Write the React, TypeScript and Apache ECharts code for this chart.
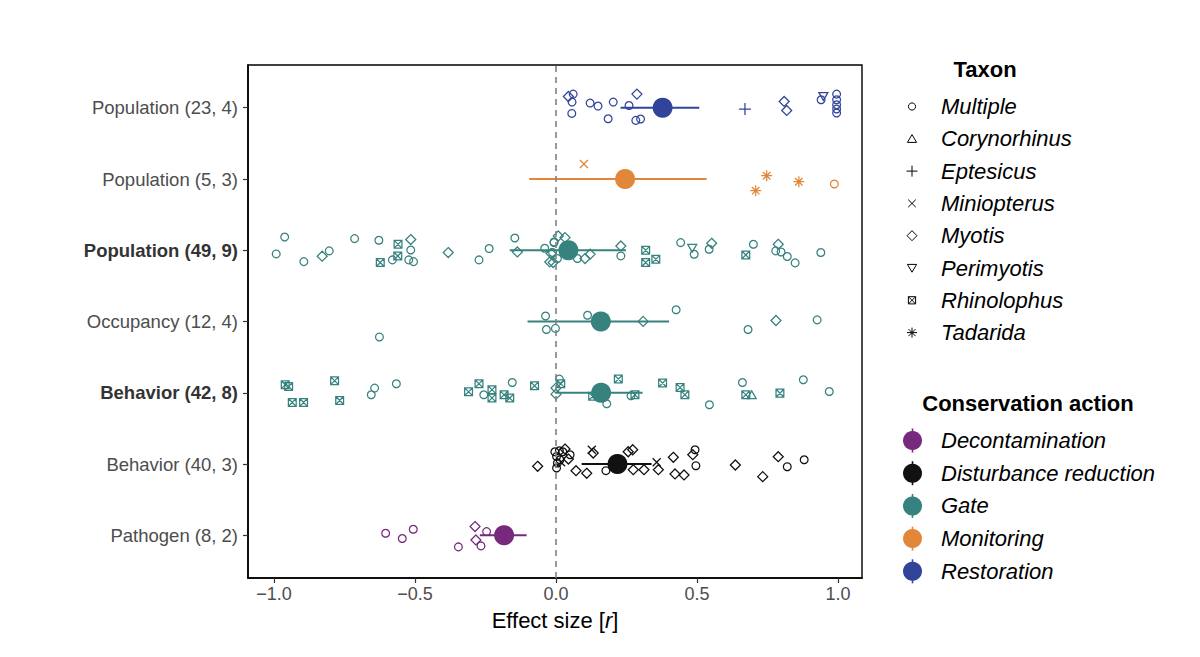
import React, { useEffect, useRef } from "react";
import * as echarts from "echarts";

// Rows from bottom (index 0) to top (index 6)
const rowLabels = [
  "Pathogen (8, 2)",
  "Behavior (40, 3)",
  "Behavior (42, 8)",
  "Occupancy (12, 4)",
  "Population (49, 9)",
  "Population (5, 3)",
  "Population (23, 4)",
];
const rowBold = [false, false, true, false, true, false, false];
const rowAction = [0, 1, 2, 2, 2, 3, 4];

const actions = ["Decontamination", "Disturbance reduction", "Gate", "Monitoring", "Restoration"];
const actionColors = ["#772a7d", "#111111", "#36827e", "#e2863a", "#32449a"];

const taxa = ["Multiple", "Corynorhinus", "Eptesicus", "Miniopterus", "Myotis", "Perimyotis", "Rhinolophus", "Tadarida"];
const taxonCodes = ["M", "C", "E", "Mi", "My", "P", "R", "T"];

// Pooled effect and 95% CI per row
const meanEffect = [-0.184, 0.218, 0.16, 0.159, 0.044, 0.245, 0.378];
const ciLow = [-0.27, 0.091, 0.0, -0.101, -0.164, -0.095, 0.229];
const ciHigh = [-0.104, 0.339, 0.307, 0.401, 0.248, 0.534, 0.508];

// Individual effect sizes: [r, vertical jitter, taxon]
const pathogenDecon = [
  [-0.604, 0.028, "M"], [-0.545, -0.046, "M"], [-0.506, 0.084, "M"], [-0.346, -0.164, "M"],
  [-0.287, 0.122, "My"], [-0.284, -0.066, "My"], [-0.266, -0.15, "M"], [-0.246, 0.052, "M"],
];
const behaviorDisturbance = [
  [-0.065, -0.032, "My"], [-0.004, 0.172, "M"], [0.012, 0.186, "M"], [0.024, 0.172, "M"],
  [0.002, 0.108, "M"], [0.014, 0.06, "M"], [0.005, 0.014, "M"], [0.002, -0.056, "M"],
  [0.018, 0.024, "Mi"], [0.032, 0.21, "My"], [0.05, 0.13, "M"], [0.044, 0.07, "My"],
  [0.071, -0.094, "My"], [0.109, -0.13, "My"], [0.132, 0.154, "My"], [0.127, 0.2, "Mi"],
  [0.177, -0.094, "M"], [0.256, 0.172, "My"], [0.272, 0.2, "My"], [0.274, -0.08, "My"],
  [0.312, -0.08, "My"], [0.357, 0.024, "Mi"], [0.363, -0.08, "My"], [0.416, 0.094, "My"],
  [0.422, -0.14, "My"], [0.454, -0.154, "My"], [0.493, 0.2, "M"], [0.485, 0.13, "My"],
  [0.496, -0.024, "M"], [0.636, -0.014, "My"], [0.733, -0.178, "My"], [0.788, 0.102, "My"],
  [0.82, -0.038, "M"], [0.88, 0.06, "M"],
];
const behaviorGate = [
  [-0.96, 0.112, "R"], [-0.948, 0.088, "R"], [-0.935, -0.136, "R"], [-0.895, -0.136, "R"],
  [-0.785, 0.168, "R"], [-0.767, -0.108, "R"], [-0.643, 0.066, "M"], [-0.655, -0.028, "M"],
  [-0.566, 0.126, "M"], [-0.31, 0.014, "R"], [-0.273, 0.126, "R"], [-0.256, -0.028, "M"],
  [-0.227, 0.042, "R"], [-0.227, -0.074, "R"], [-0.155, 0.144, "M"], [-0.184, -0.028, "R"],
  [-0.164, -0.074, "R"], [-0.076, 0.098, "R"], [0.012, 0.192, "M"], [0.017, 0.126, "R"],
  [0.0, 0.066, "My"], [0.0, -0.02, "My"], [0.13, -0.05, "R"], [0.18, -0.154, "M"],
  [0.221, 0.192, "R"], [0.266, -0.042, "M"], [0.28, -0.028, "R"], [0.378, 0.136, "R"],
  [0.44, 0.074, "R"], [0.457, -0.028, "R"], [0.544, -0.168, "M"], [0.661, 0.144, "M"],
  [0.673, -0.028, "R"], [0.694, -0.028, "C"], [0.794, -0.005, "R"], [0.877, 0.182, "M"],
  [0.969, 0.018, "M"],
];
const occupancyGate = [
  [-0.626, -0.217, "M"], [-0.037, 0.077, "M"], [-0.034, -0.112, "M"], [-0.002, -0.097, "M"],
  [0.112, 0.088, "M"], [0.309, 0.001, "My"], [0.426, 0.165, "M"], [0.681, -0.112, "M"],
  [0.78, 0.014, "My"], [0.926, 0.022, "M"],
];
const populationGate = [
  [-0.962, 0.186, "M"], [-0.992, -0.052, "M"], [-0.894, -0.159, "M"], [-0.829, -0.084, "My"],
  [-0.804, -0.009, "M"], [-0.714, 0.164, "M"], [-0.628, 0.14, "M"], [-0.56, 0.084, "R"],
  [-0.515, 0.15, "My"], [-0.515, 0.004, "M"], [-0.561, -0.08, "R"], [-0.623, -0.173, "R"],
  [-0.58, -0.136, "M"], [-0.522, -0.136, "M"], [-0.505, -0.159, "M"], [-0.382, -0.032, "My"],
  [-0.273, -0.136, "M"], [-0.237, 0.024, "M"], [-0.146, 0.172, "M"], [-0.137, -0.024, "My"],
  [-0.04, 0.028, "M"], [-0.007, 0.116, "M"], [-0.017, -0.046, "My"], [-0.022, -0.164, "My"],
  [0.008, 0.2, "My"], [-0.007, 0.108, "M"], [-0.012, -0.032, "M"], [-0.01, -0.172, "My"],
  [0.005, -0.116, "M"], [0.032, 0.178, "My"], [0.076, -0.116, "M"], [0.103, -0.116, "My"],
  [0.121, -0.056, "My"], [0.23, 0.06, "My"], [0.23, -0.08, "M"], [0.318, 0.0, "R"],
  [0.318, -0.173, "R"], [0.354, -0.126, "R"], [0.442, 0.108, "M"], [0.483, 0.028, "P"],
  [0.49, -0.056, "M"], [0.552, 0.098, "My"], [0.543, 0.014, "M"], [0.7, 0.084, "M"],
  [0.673, -0.066, "R"], [0.788, 0.084, "My"], [0.779, -0.009, "M"], [0.798, -0.024, "M"],
  [0.82, -0.088, "M"], [0.848, -0.178, "M"], [0.939, -0.032, "M"],
];
const populationMonitoring = [
  [0.099, 0.21, "Mi"], [0.747, 0.046, "T"], [0.708, -0.164, "T"], [0.861, -0.038, "T"], [0.987, -0.07, "M"],
];
const populationRestoration = [
  [0.044, 0.158, "My"], [0.061, 0.192, "M"], [0.057, 0.08, "M"], [0.056, -0.08, "M"],
  [0.121, 0.066, "M"], [0.149, 0.024, "M"], [0.203, 0.08, "M"], [0.185, -0.154, "M"],
  [0.287, 0.192, "My"], [0.259, 0.032, "M"], [0.283, -0.178, "M"], [0.3, -0.158, "M"],
  [0.67, -0.018, "E"], [0.809, 0.088, "My"], [0.818, -0.038, "My"], [0.94, 0.112, "M"],
  [0.948, 0.158, "P"], [0.995, 0.192, "M"], [0.995, 0.112, "M"], [0.995, 0.042, "M"],
  [0.995, -0.018, "M"], [0.995, -0.074, "M"],
];
const rowPoints = [
  pathogenDecon, behaviorDisturbance, behaviorGate, occupancyGate,
  populationGate, populationMonitoring, populationRestoration,
];

const xTicks = [-1, -0.5, 0, 0.5, 1];
const yTicks = [0, 1, 2, 3, 4, 5, 6];

const FONT = "'Liberation Sans', Arial, Helvetica, sans-serif";

const symbolDefs: Record<string, { symbol: string; size: number }> = {
  M: { symbol: "circle", size: 7.8 },
  C: { symbol: "path://M5,0L10,8.66L0,8.66Z", size: 9 },
  E: { symbol: "path://M5,0L5,10M0,5L10,5", size: 12 },
  Mi: { symbol: "path://M0,0L10,10M10,0L0,10", size: 8 },
  My: { symbol: "diamond", size: 10 },
  P: { symbol: "path://M0,0L10,0L5,8.66Z", size: 9 },
  R: { symbol: "path://M0,0L10,0L10,10L0,10ZM0,0L10,10M10,0L0,10", size: 7.8 },
  T: { symbol: "path://M5,0L5,10M0,5L10,5M1.6,1.6L8.4,8.4M8.4,1.6L1.6,8.4", size: 11 },
};

function legendGlyph(code: string, cx: number, cy: number): any[] {
  const st = { stroke: "#000", fill: "none", lineWidth: 1 };
  const ln = (x1: number, y1: number, x2: number, y2: number) => ({
    type: "line", shape: { x1, y1, x2, y2 }, style: st,
  });
  switch (code) {
    case "M":
      return [{ type: "circle", shape: { cx, cy, r: 3.6 }, style: st }];
    case "C":
      return [{ type: "polygon", shape: { points: [[cx, cy - 4.2], [cx + 4.6, cy + 3.6], [cx - 4.6, cy + 3.6]] }, style: st }];
    case "E":
      return [ln(cx - 5.5, cy, cx + 5.5, cy), ln(cx, cy - 5.5, cx, cy + 5.5)];
    case "Mi":
      return [ln(cx - 3.8, cy - 3.8, cx + 3.8, cy + 3.8), ln(cx + 3.8, cy - 3.8, cx - 3.8, cy + 3.8)];
    case "My":
      return [{ type: "polygon", shape: { points: [[cx, cy - 5], [cx + 5, cy], [cx, cy + 5], [cx - 5, cy]] }, style: st }];
    case "P":
      return [{ type: "polygon", shape: { points: [[cx - 4.6, cy - 3.6], [cx + 4.6, cy - 3.6], [cx, cy + 4.2]] }, style: st }];
    case "R":
      return [
        { type: "rect", shape: { x: cx - 3.6, y: cy - 3.6, width: 7.2, height: 7.2 }, style: st },
        ln(cx - 3.6, cy - 3.6, cx + 3.6, cy + 3.6), ln(cx + 3.6, cy - 3.6, cx - 3.6, cy + 3.6),
      ];
    case "T":
    default:
      return [
        ln(cx - 5, cy, cx + 5, cy), ln(cx, cy - 5, cx, cy + 5),
        ln(cx - 3.5, cy - 3.5, cx + 3.5, cy + 3.5), ln(cx + 3.5, cy - 3.5, cx - 3.5, cy + 3.5),
      ];
  }
}

export default function App() {
  const ref = useRef<HTMLDivElement>(null);

  useEffect(() => {
    document.body.style.margin = "0";
    if (!ref.current) return;
    const chart = echarts.init(ref.current, null, { renderer: "svg" });

    const series: any[] = [];
    rowPoints.forEach((pts, row) => {
      const color = actionColors[rowAction[row]];
      taxonCodes.forEach((code) => {
        const data = pts.filter((p) => p[2] === code).map((p) => [p[0] as number, row + (p[1] as number)]);
        if (!data.length) return;
        const def = symbolDefs[code];
        series.push({
          type: "scatter",
          name: taxa[taxonCodes.indexOf(code)],
          data,
          symbol: def.symbol,
          symbolSize: def.size,
          symbolKeepAspect: true,
          z: 3,
          itemStyle: { color: "rgba(255,255,255,0)", borderColor: color, borderWidth: 1.25, opacity: 1 },
          emphasis: { disabled: true },
        });
      });
    });

    // zero reference line
    series.unshift({
      type: "scatter",
      data: [],
      z: 2,
      markLine: {
        silent: true,
        symbol: ["none", "none"],
        label: { show: false },
        lineStyle: { color: "#808080", type: [6, 5], width: 1.6 },
        emphasis: { disabled: true },
        data: [{ xAxis: 0 }],
      },
    });

    series.push({
      type: "custom",
      z: 4,
      data: ciLow.map((lo, i) => [lo, ciHigh[i], i]),
      encode: { x: [0, 1], y: 2 },
      renderItem: (params: any, api: any) => {
        const i = params.dataIndex;
        const a = api.coord([api.value(0), api.value(2)]);
        const b = api.coord([api.value(1), api.value(2)]);
        return {
          type: "line",
          shape: { x1: a[0], y1: a[1], x2: b[0], y2: b[1] },
          style: { stroke: actionColors[rowAction[i]], lineWidth: 2 },
        };
      },
    });

    series.push({
      type: "scatter",
      z: 5,
      symbol: "circle",
      symbolSize: 20,
      data: meanEffect.map((m, i) => ({
        value: [m, i],
        itemStyle: { color: actionColors[rowAction[i]], opacity: 1 },
      })),
      itemStyle: { opacity: 1 },
      emphasis: { disabled: true },
    });

    const graphic: any[] = [];
    graphic.push({
      type: "text", x: 985, y: 69,
      style: { text: "Taxon", fontFamily: FONT, fontSize: 22, fontWeight: "bold", fill: "#000", align: "center", verticalAlign: "middle" },
    });
    const taxonY = [106.5, 138.8, 171.1, 203.4, 235.7, 268, 300.3, 332.6];
    taxa.forEach((t, i) => {
      graphic.push(...legendGlyph(taxonCodes[i], 912, taxonY[i]));
      graphic.push({
        type: "text", x: 941, y: taxonY[i],
        style: { text: t, fontFamily: FONT, fontSize: 22, fontStyle: "italic", fill: "#000", align: "left", verticalAlign: "middle" },
      });
    });
    graphic.push({
      type: "text", x: 1028, y: 403,
      style: { text: "Conservation action", fontFamily: FONT, fontSize: 22, fontWeight: "bold", fill: "#000", align: "center", verticalAlign: "middle" },
    });
    const actionY = [440.5, 473.2, 505.9, 538.6, 571.3];
    actions.forEach((a, i) => {
      graphic.push({
        type: "line", shape: { x1: 912.5, y1: actionY[i] - 12, x2: 912.5, y2: actionY[i] + 12 },
        style: { stroke: actionColors[i], lineWidth: 1.6 },
      });
      graphic.push({
        type: "circle", shape: { cx: 912.5, cy: actionY[i], r: 9.5 },
        style: { fill: actionColors[i] },
      });
      graphic.push({
        type: "text", x: 941, y: actionY[i],
        style: { text: a, fontFamily: FONT, fontSize: 22, fontStyle: "italic", fill: "#000", align: "left", verticalAlign: "middle" },
      });
    });

    chart.setOption({
      animation: false,
      backgroundColor: "#ffffff",
      grid: {
        left: 248, right: 338, top: 65, bottom: 79,
        show: true, borderColor: "#000", borderWidth: 1.4, backgroundColor: "transparent",
      },
      xAxis: {
        type: "value",
        min: -1.092,
        max: 1.085,
        splitLine: { show: false },
        axisLine: { show: true, onZero: false, lineStyle: { color: "#000", width: 1.6 } },
        axisTick: { show: true, customValues: xTicks, length: 5, lineStyle: { color: "#333", width: 1.2 } },
        axisLabel: {
          customValues: xTicks,
          margin: 7,
          fontFamily: FONT,
          fontSize: 18,
          color: "#4d4d4d",
          formatter: (v: number) => (v < 0 ? "\u2212" : "") + Math.abs(v).toFixed(1),
        },
        name: "Effect size [{i|r}]",
        nameLocation: "middle",
        nameGap: 31,
        nameTextStyle: {
          fontFamily: FONT, fontSize: 22, color: "#000", verticalAlign: "top",
          rich: { i: { fontFamily: FONT, fontSize: 22, color: "#000", fontStyle: "italic" } },
        },
      },
      yAxis: {
        type: "value",
        min: -0.6,
        max: 6.6,
        splitLine: { show: false },
        axisLine: { show: true, onZero: false, lineStyle: { color: "#000", width: 1.6 } },
        axisTick: { show: true, customValues: yTicks, length: 5, lineStyle: { color: "#333", width: 1.2 } },
        axisLabel: {
          customValues: yTicks,
          margin: 10,
          fontFamily: FONT,
          fontSize: 18.5,
          color: "#4d4d4d",
          formatter: (v: number) => {
            const i = Math.round(v);
            const name = rowLabels[i] ?? "";
            return rowBold[i] ? `{b|${name}}` : name;
          },
          rich: { b: { fontFamily: FONT, fontSize: 18.5, fontWeight: "bold", color: "#333" } },
        },
      },
      tooltip: { show: false },
      graphic,
      series,
    });

    return () => chart.dispose();
  }, []);

  return (
    <div style={{ position: "fixed", left: 0, top: 0, width: 1200, height: 657, background: "#fff" }}>
      <div ref={ref} style={{ width: 1200, height: 657 }} />
    </div>
  );
}
